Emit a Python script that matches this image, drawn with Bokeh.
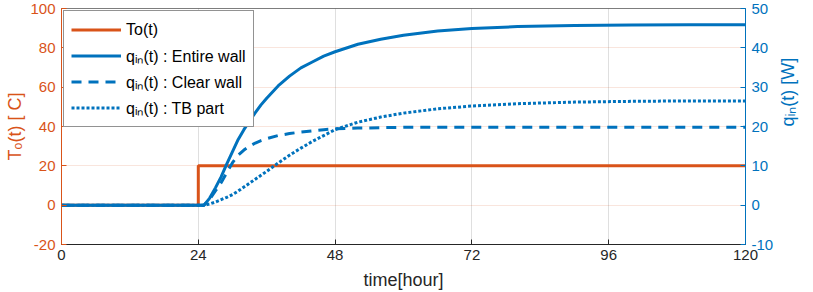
import math
from bokeh.plotting import figure
from bokeh.models import Range1d, LinearAxis, FixedTicker, Legend, LegendItem
from bokeh.embed import file_html
from bokeh.resources import INLINE

# ---------------- data ----------------
t_step = [0, 24, 24, 120]
to_vals = [0, 0, 20, 20]

t_q = [0, 24, 25, 26, 27, 28, 29, 30, 31, 32, 33, 34, 35, 36, 38, 40, 42, 44, 46, 48,
       52, 56, 60, 66, 72, 80, 90, 100, 110, 120]
q_entire = [0, 0, 0, 1.8, 4.4, 7.2, 10.5, 13.6, 16.7, 19.2, 21.4, 23.5, 25.5, 27.2, 30.3,
            32.8, 34.9, 36.4, 37.9, 39.0, 40.9, 42.2, 43.2, 44.3, 44.9, 45.4, 45.7, 45.8,
            45.9, 45.9]
q_clear = [0, 0, 0, 1.5, 3.6, 5.7, 8.3, 10.8, 12.7, 14.0, 15.0, 15.8, 16.4, 16.9, 17.7,
           18.2, 18.6, 18.9, 19.2, 19.4, 19.6, 19.7, 19.8, 19.8, 19.8, 19.8, 19.8, 19.8,
           19.8, 19.8]
q_tb = [0, 0, 0, 0.3, 0.8, 1.4, 2.0, 2.7, 3.6, 4.6, 5.6, 6.6, 7.6, 8.6, 10.7, 12.7, 14.5,
        16.2, 17.7, 19.2, 21.1, 22.4, 23.4, 24.5, 25.2, 25.8, 26.2, 26.4, 26.5, 26.5]

x_ticks = [0, 24, 48, 72, 96, 120]
left_ticks = [-20, 0, 20, 40, 60, 80, 100]
right_ticks = [-10, 0, 10, 20, 30, 40, 50]

ORANGE = "#D95319"
BLUE = "#0072BD"
DARK = "#262626"
FONT = "Liberation Sans"

p = figure(width=813, height=292, output_backend="svg", toolbar_location=None,
           x_range=Range1d(0, 120), y_range=Range1d(-20, 100),
           min_border_left=61, min_border_right=68, min_border_top=8,
           min_border_bottom=48)
p.extra_y_ranges = {"q": Range1d(-10, 50)}

p.outline_line_color = DARK
p.outline_line_alpha = 0.6
p.outline_line_width = 1

# bottom axis
xa = p.xaxis[0]
xa.ticker = FixedTicker(ticks=x_ticks)
xa.axis_label = "time[hour]"
xa.axis_line_color = DARK
xa.major_tick_line_color = DARK
xa.major_label_text_color = DARK
xa.axis_label_text_color = DARK
xa.major_tick_in = 5
xa.major_tick_out = 0
xa.minor_tick_line_color = None
xa.major_label_standoff = 5
xa.axis_label_standoff = 7

# left axis
ya = p.yaxis[0]
ya.ticker = FixedTicker(ticks=left_ticks)
ya.major_label_overrides = {v: str(v) for v in left_ticks}
ya.axis_label = "T\u2092(t) [ C]"
ya.axis_line_color = ORANGE
ya.major_tick_line_color = ORANGE
ya.major_label_text_color = ORANGE
ya.axis_label_text_color = ORANGE
ya.major_tick_in = 5
ya.major_tick_out = 0
ya.minor_tick_line_color = None
ya.major_label_standoff = 6
ya.axis_label_standoff = 2

# right axis
yr = LinearAxis(y_range_name="q", ticker=FixedTicker(ticks=right_ticks),
                axis_label="q\u1d62\u2099(t) [W]")
yr.major_label_overrides = {v: str(v) for v in right_ticks}
yr.axis_line_color = BLUE
yr.major_tick_line_color = BLUE
yr.major_label_text_color = BLUE
yr.axis_label_text_color = BLUE
yr.major_tick_in = 5
yr.major_tick_out = 0
yr.minor_tick_line_color = None
yr.major_label_standoff = 6
yr.axis_label_standoff = 12
try:
    yr.axis_label_orientation = math.pi / 2
except Exception:
    pass
p.add_layout(yr, "right")

for ax in [xa, ya, yr]:
    ax.major_label_text_font = FONT
    ax.major_label_text_font_size = "15px"
    ax.axis_label_text_font = FONT
    ax.axis_label_text_font_size = "18px"
    ax.axis_label_text_font_style = "normal"
    ax.axis_line_width = 1

# grid
p.xgrid.ticker = FixedTicker(ticks=x_ticks)
p.ygrid.ticker = FixedTicker(ticks=left_ticks)
p.xgrid.grid_line_color = DARK
p.xgrid.grid_line_alpha = 0.15
p.ygrid.grid_line_color = ORANGE
p.ygrid.grid_line_alpha = 0.15

# lines
r_to = p.line(t_step, to_vals, line_color=ORANGE, line_width=3)
r_en = p.line(t_q, q_entire, y_range_name="q", line_color=BLUE, line_width=3)
r_cl = p.line(t_q, q_clear, y_range_name="q", line_color=BLUE, line_width=3,
              line_dash="10 7")
r_tb = p.line(t_q, q_tb, y_range_name="q", line_color=BLUE, line_width=3,
              line_dash="3 2")

legend = Legend(items=[
    LegendItem(label="To(t)", renderers=[r_to]),
    LegendItem(label="q\u1d62\u2099(t) : Entire wall", renderers=[r_en]),
    LegendItem(label="q\u1d62\u2099(t) : Clear wall", renderers=[r_cl]),
    LegendItem(label="q\u1d62\u2099(t) : TB part", renderers=[r_tb]),
], location="top_left")
legend.label_text_font = FONT
legend.label_text_font_size = "16px"
legend.label_text_color = "#000000"
legend.border_line_color = DARK
legend.border_line_width = 1
legend.background_fill_color = "white"
legend.background_fill_alpha = 1
legend.glyph_width = 50
legend.glyph_height = 23
legend.label_height = 23
legend.label_standoff = 5
legend.padding = 7
legend.spacing = 3
legend.margin = 2
p.add_layout(legend)

open("out.html", "w").write(file_html(p, INLINE))
